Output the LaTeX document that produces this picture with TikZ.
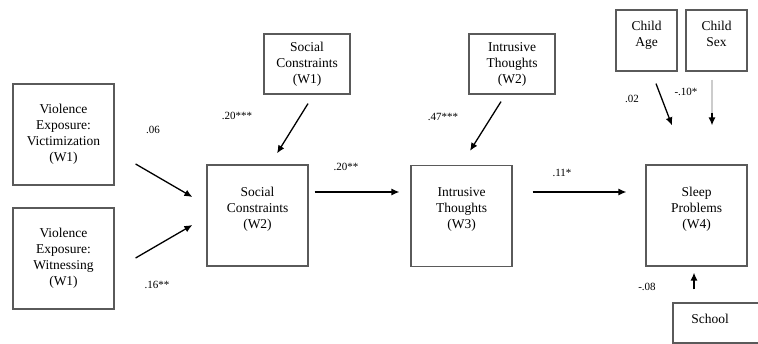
\documentclass[tikz,border=0pt]{standalone}
\usepackage{fontspec}
\setmainfont{Liberation Serif}
\usetikzlibrary{arrows.meta,calc}
\definecolor{boxgray}{HTML}{5A5A5A}
\tikzset{
  bigbox/.style={draw=boxgray, line width=1.2pt, minimum width=101, minimum height=101, inner sep=0pt},
  smallbox/.style={draw=boxgray, line width=1.2pt, minimum width=86, minimum height=60, inner sep=0pt,
    align=center, font=\fontsize{13.5}{16}\selectfont},
  boxtxt/.style={align=center, inner sep=0pt, font=\fontsize{13.5}{16}\selectfont},
  coef/.style={inner sep=0pt, font=\fontsize{11}{13}\selectfont},
  pathedge/.style={line width=1.3pt, -{Latex[length=8pt,width=7pt]}},
  fadeedge/.style={line width=1.1pt, gray!40}
}

\begin{document}
\begin{tikzpicture}[x=1pt, y=-1pt]
    \useasboundingbox (0,0) rectangle (758,344);
    % ---------------------
    \draw
    (63.5,134.5) node[bigbox, boxtxt] (vict) {Violence\\Exposure:\\Victimization\\(W1)}
    ++(0,124) node[bigbox, boxtxt] (witn) {Violence\\Exposure:\\Witnessing\\(W1)};
    % ---------------------
    \draw
    (257.5,215.5) node[bigbox] (scw2) {}
    ++(204,0.5) node[bigbox] (itw3) {}
    ++(235,-0.5) node[bigbox] (sleep) {};
    \node[boxtxt] (scw2txt) at ([yshift=6.5pt]scw2.center) {Social\\Constraints\\(W2)};
    \node[boxtxt] (itw3txt) at ([yshift=6.5pt]itw3.center) {Intrusive\\Thoughts\\(W3)};
    \node[boxtxt] (sleeptxt) at ([yshift=6.5pt]sleep.center) {Sleep\\Problems\\(W4)};
    % ---------------------
    \draw
    (307,64) node[smallbox] (scw1) {Social\\Constraints\\(W1)}
    ++(205,0) node[smallbox] (itw2) {Intrusive\\Thoughts\\(W2)};
    \draw
    (646.5,40.5) node[smallbox, minimum width=61, minimum height=61, text depth=14pt] (age) {Child\\Age}
    ++(70,0) node[smallbox, minimum width=61, minimum height=61, text depth=14pt] (sex) {Child\\Sex};
    \node[smallbox, minimum width=120, minimum height=40] (school) at (733,323) {};
    \node[boxtxt] (schooltxt) at (710,319) {School};
    % ---------------------
    \coordinate (sexmid) at ($(sex.south)+(-4.5,41)$);
    \draw
    ($(vict.east)+(21,29.5)$) edge[pathedge] ($(scw2.west)+(-14,-18.5)$)
    ($(witn.east)+(21,-0.5)$) edge[pathedge] ($(scw2.west)+(-14,9.5)$)
    ($(scw1.south)+(1,9)$) edge[pathedge] ($(scw2.north)+(19.5,-11)$)
    ($(scw2.east)+(6,-23.5)$) edge[pathedge] ($(itw3.west)+(-11,-24)$)
    ($(itw2.south)+(-11,7)$) edge[pathedge] ($(itw3.north)+(8.5,-14)$)
    ($(itw3.east)+(20,-24)$) edge[pathedge] ($(sleep.west)+(-19,-23.5)$)
    ($(age.south)+(9.5,12)$) edge[pathedge] ($(sleep.north)+(-24.5,-39)$)
    ($(sex.south)+(-4.5,8)$) edge[fadeedge] (sexmid)
    (sexmid) edge[pathedge] ($(sleep.north)+(15.5,-39)$)
    ($(school.north)+(-39,-13)$) edge[pathedge] ($(sleep.south)+(-2.5,6)$);
    % ---------------------
    \node[coef] (c1) at (153,130) {.06};
    \node[coef] (c2) at (157,285) {.16**};
    \node[coef] (c3) at (237,116) {.20***};
    \node[coef] (c4) at (346,167) {.20**};
    \node[coef] (c5) at (443,117) {.47***};
    \node[coef] (c6) at (562,173) {.11*};
    \node[coef] (c7) at (632,99) {.02};
    \node[coef] (c8) at (686,92) {-.10*};
    \node[coef] (c9) at (647,287) {-.08};
\end{tikzpicture}
\end{document}
